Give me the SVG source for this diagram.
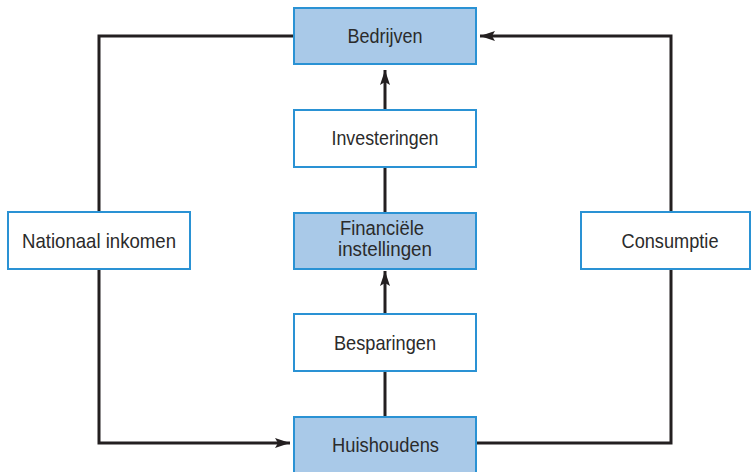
<svg xmlns="http://www.w3.org/2000/svg" width="751" height="472" viewBox="0 0 751 472">
<defs>
<style>
.box{stroke:#2a92d4;stroke-width:2}
.fill{fill:#a9c9e8}
.white{fill:#ffffff}
.lbl{font-family:"Liberation Sans",Arial,sans-serif;font-size:21px;fill:#2b2b2b;text-anchor:middle}
.sm{font-size:19.5px}
.con{fill:none;stroke:#231f20;stroke-width:3}
</style>
<marker id="ah" viewBox="0 0 15 10" refX="15" refY="5" markerWidth="15" markerHeight="10" markerUnits="userSpaceOnUse" orient="auto">
<path d="M0,0 L15,5 L0,10 L3,5 Z" fill="#231f20"/>
</marker>
</defs>
<rect width="751" height="472" fill="#ffffff"/>
<g id="connectors">
<path class="con" d="M99,212 V36 H294"/>
<path class="con" d="M99,269 V443 H290" marker-end="url(#ah)"/>
<path class="con" d="M476,443 H671 V269"/>
<path class="con" d="M671,212 V36 H480" marker-end="url(#ah)"/>
<path class="con" d="M385,110 V70" marker-end="url(#ah)"/>
<path class="con" d="M385,212 V167"/>
<path class="con" d="M385,314 V271" marker-end="url(#ah)"/>
<path class="con" d="M385,417 V371"/>
</g>
<g id="bedrijven">
<rect class="box fill" x="294" y="8" width="182" height="56"/>
<text class="lbl" x="385" y="43" textLength="75" lengthAdjust="spacingAndGlyphs">Bedrijven</text>
</g>
<g id="investeringen">
<rect class="box white" x="294" y="110" width="182" height="57"/>
<text class="lbl" x="385" y="145" textLength="107" lengthAdjust="spacingAndGlyphs">Investeringen</text>
</g>
<g id="financiele">
<rect class="box fill" x="294" y="213" width="182" height="56"/>
<text class="lbl sm" x="382" y="235" textLength="84" lengthAdjust="spacingAndGlyphs">Financiële</text>
<text class="lbl sm" x="385" y="256" textLength="94" lengthAdjust="spacingAndGlyphs">instellingen</text>
</g>
<g id="besparingen">
<rect class="box white" x="294" y="314" width="182" height="57"/>
<text class="lbl" x="385" y="350" textLength="102" lengthAdjust="spacingAndGlyphs">Besparingen</text>
</g>
<g id="huishoudens">
<rect class="box fill" x="294" y="417" width="182" height="60"/>
<text class="lbl" x="385.5" y="452" textLength="107" lengthAdjust="spacingAndGlyphs">Huishoudens</text>
</g>
<g id="nationaal-inkomen">
<rect class="box white" x="8" y="212" width="182" height="57"/>
<text class="lbl" x="99" y="248" textLength="154" lengthAdjust="spacingAndGlyphs">Nationaal inkomen</text>
</g>
<g id="consumptie">
<rect class="box white" x="581" y="212" width="169" height="57"/>
<text class="lbl" x="670" y="248" textLength="97" lengthAdjust="spacingAndGlyphs">Consumptie</text>
</g>
</svg>
